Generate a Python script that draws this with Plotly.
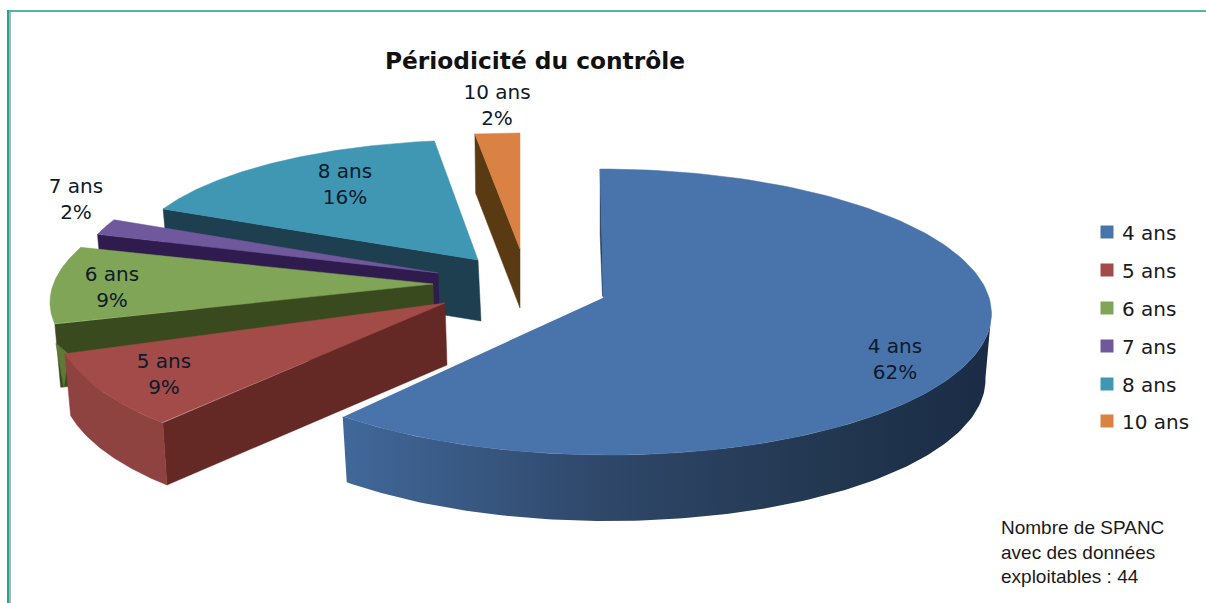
import numpy as np
import plotly.graph_objects as go

# --- data ---
categories = ["4 ans", "5 ans", "6 ans", "7 ans", "8 ans", "10 ans"]
percent = [62, 9, 9, 2, 16, 2]
note_lines = ["Nombre de SPANC", "avec des données", "exploitables : 44"]
title_text = "Périodicité du contrôle"

# --- look: one entry per slice, in the order of `categories` ---
top_colors = ["#4874ab", "#a34b49", "#80a556", "#70589c", "#3f97b4", "#d98243"]
side_colors = ["#1f3553", "#642825", "#3a4a1f", "#2f1b4d", "#1e3f50", "#5a3a12"]
front_colors = ["#3a5a88", "#8f4341", "#5e7a35", "#2f1b4d", "#1e3f50", "#5a3a12"]
apex_x = [603, 445, 433, 438, 478, 520]
apex_y = [297, 303, 284, 273, 260, 249]
off_x = [1, -46, 0, 0, 0, 0]
off_y = [15, 15, 6, 0, 0, 0]
rad_x = [387, 345, 380, 358, 348, 360]
rad_y = [143, 144, 138, 125, 120, 116]
shear = [0.03, 0, -0.25, 0, 0, 0]
depth = [66, 62, 63, 63, 61, 59]
apex_drift = [2, 2, 2, 2, 3, 0]
label_x = [895, 164, 112, 76, 345, 497]
label_y = [361, 376, 289, 201, 186, 107]
legend_y = [232, 270, 308, 346, 384, 421]

FONT = "DejaVu Sans"
DARK = "#0d1a2b"
WALL_DRIFT = 6

cum = np.concatenate([[0], np.cumsum(percent)]) / sum(percent) * 2 * np.pi
fig = go.Figure()


def rim(i, a):
    a = np.asarray(a, dtype=float)
    dy = off_y[i] - rad_y[i] * np.cos(a)
    x = apex_x[i] + off_x[i] + rad_x[i] * np.sin(a) + shear[i] * dy
    y = apex_y[i] + dy
    return x, y


def poly(xs, ys, color, **kw):
    fig.add_trace(go.Scatter(x=list(xs), y=list(ys), mode="lines", fill="toself",
                             fillcolor=color, line=dict(width=0.5, color=color),
                             hoverinfo="skip", showlegend=False, **kw))


def drop(i, x, y, a):
    """The same rim points moved to the lower face of the slice."""
    return x - WALL_DRIFT * np.sin(a), y + depth[i]


def draw_slice(i):
    a0, a1 = cum[i], cum[i + 1]
    # cut face on the start side
    sx, sy = rim(i, a0)
    bx, by = drop(i, sx, sy, a0)
    ax_, ay_ = apex_x[i], apex_y[i]
    poly([sx, ax_, ax_ + apex_drift[i], bx, sx], [sy, ay_, ay_ + depth[i], by, sy], side_colors[i])
    # outer wall, only where the rim faces the viewer
    lo, hi = max(a0, np.pi / 2), min(a1, 3 * np.pi / 2)
    if hi > lo and i < 2:
        t = np.linspace(lo, hi, 120)
        xt, yt = rim(i, t)
        xb, yb = drop(i, xt, yt, t)
        xs = np.concatenate([xt, xb[::-1], xt[:1]])
        ys = np.concatenate([yt, yb[::-1], yt[:1]])
        if i == 0:
            fig.add_trace(go.Scatter(
                x=list(xs), y=list(ys), mode="lines", fill="toself",
                line=dict(width=0), hoverinfo="skip", showlegend=False,
                fillgradient=dict(type="horizontal", colorscale=[
                    [0, "#41689a"], [0.4, "#2f4769"], [0.75, "#223750"], [1, "#1a2b46"]])))
        else:
            poly(xs, ys, front_colors[i])
    if i == 2:
        # small lit strip at the left end of the green wall
        poly([sx + 1, sx + 9, sx + 14, sx + 1], [sy + 19, sy + depth[i], sy + 30, sy + 19],
             front_colors[i])
    # top face
    t = np.linspace(a0, a1, 160)
    xt, yt = rim(i, t)
    poly(np.concatenate([[ax_], xt, [ax_]]), np.concatenate([[ay_], yt, [ay_]]), top_colors[i])


for i in [4, 5, 3, 2, 1, 0]:
    draw_slice(i)

# white hairline between the large slice and its neighbour
ex, ey = rim(0, cum[1])
fig.add_trace(go.Scatter(x=[apex_x[0], float(ex)], y=[apex_y[0], float(ey)], mode="lines",
                         line=dict(color="white", width=1.5), hoverinfo="skip", showlegend=False))

# data labels
label_text = [f"{c}<br>{p}%" for c, p in zip(categories, percent)]
fig.add_trace(go.Scatter(x=label_x, y=label_y, mode="text", text=label_text,
                         textposition="middle center",
                         textfont=dict(family=FONT, size=20, color=DARK),
                         hoverinfo="skip", showlegend=False))

# legend
for c, col, ly in zip(categories, top_colors, legend_y):
    fig.add_trace(go.Scatter(x=[1107], y=[ly], mode="markers",
                             marker=dict(symbol="square", size=13, color=col),
                             hoverinfo="skip", showlegend=False))
    fig.add_annotation(x=1120, y=ly + 1, text=c, showarrow=False, xanchor="left", yanchor="middle",
                       font=dict(family=FONT, size=20, color="#1a1a1a"))

# note
fig.add_annotation(x=999, y=552, text="<br>".join(note_lines), showarrow=False, xanchor="left",
                   yanchor="middle", align="left",
                   font=dict(family="Liberation Sans", size=19, color="#1a1a1a"))

border_top = "#4fb8a4"
fig.update_layout(
    width=1206, height=603, margin=dict(l=0, r=0, t=0, b=0), autosize=False,
    paper_bgcolor="white", plot_bgcolor="white", showlegend=False,
    title=dict(text=f"<b>{title_text}</b>", x=535 / 1206, y=1 - 61 / 603, xanchor="center",
               yanchor="middle", font=dict(family=FONT, size=23.3, color="#111111")),
    xaxis=dict(range=[0, 1206], visible=False, fixedrange=True),
    yaxis=dict(range=[603, 0], visible=False, fixedrange=True),
    shapes=[
        dict(type="line", x0=8, x1=1206, y0=11, y1=11, line=dict(color=border_top, width=2)),
        dict(type="line", x0=8, x1=8, y0=10, y1=603, line=dict(color="#1ba88e", width=2)),
        dict(type="line", x0=10, x1=10, y0=12, y1=603, line=dict(color="#b0b0b0", width=2)),
    ],
)

fig.write_html("out.html", config={"displayModeBar": False},
               post_script="document.body.style.margin='0';")
